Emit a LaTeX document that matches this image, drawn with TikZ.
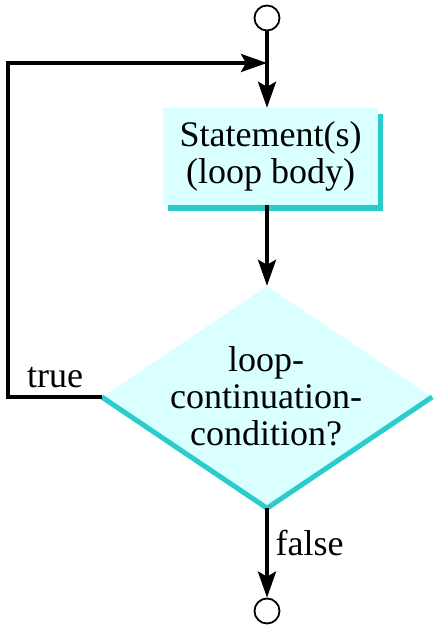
\documentclass[tikz,border=0pt]{standalone}
\usepackage{fontspec}
\setmainfont{Liberation Serif}
\usetikzlibrary{arrows.meta,shapes.geometric,shadows}
\definecolor{boxfill}{RGB}{217,255,255}
\definecolor{boxedge}{RGB}{44,204,204}

\begin{document}
\begin{tikzpicture}[x=1pt,y=-1pt,font=\fontsize{36}{37}\selectfont,
    flow/.style={line width=3.8pt,-{Stealth[length=26pt,width=18pt,inset=5pt]}},
    term/.style={circle,draw,line width=1.8pt,minimum size=25pt,inner sep=0pt},
    bodybox/.style={rectangle,fill=boxfill,minimum width=215pt,minimum height=97pt,
      align=center,drop shadow={shadow xshift=5pt,shadow yshift=-6pt,fill=boxedge,opacity=1}},
    cond/.style={diamond,fill=boxfill,minimum width=330pt,minimum height=222pt,inner sep=0pt}]
  \useasboundingbox (0,0) rectangle (436,631);
  \node[term] (start) at (267,18) {};
  \node[bodybox] (body) at (270.5,156.5) {Statement(s)\\(loop body)};
  \node[cond] (test) at (267,397) {};
  \draw[boxedge,line width=5pt,line join=miter] (test.west) -- (test.south) -- (test.east);
  \node[align=center] (testtext) at (266,396) {loop-\\continuation-\\condition?};
  \node[term] (stop) at (267,611) {};
  \coordinate (merge) at (267,63);
  \coordinate (corner) at (8,63);
  \draw[flow] (start) -- (start |- body.north);
  \draw[flow] (start |- body.south) -- (test.north);
  \draw[flow] (test.west) -| (corner) -- (merge);
  \draw[flow] (test.south) -- (stop);
  \node[anchor=base] (truelbl) at (55,387) {true};
  \node[anchor=base west] (falselbl) at (272,555) {false};
\end{tikzpicture}
\end{document}
